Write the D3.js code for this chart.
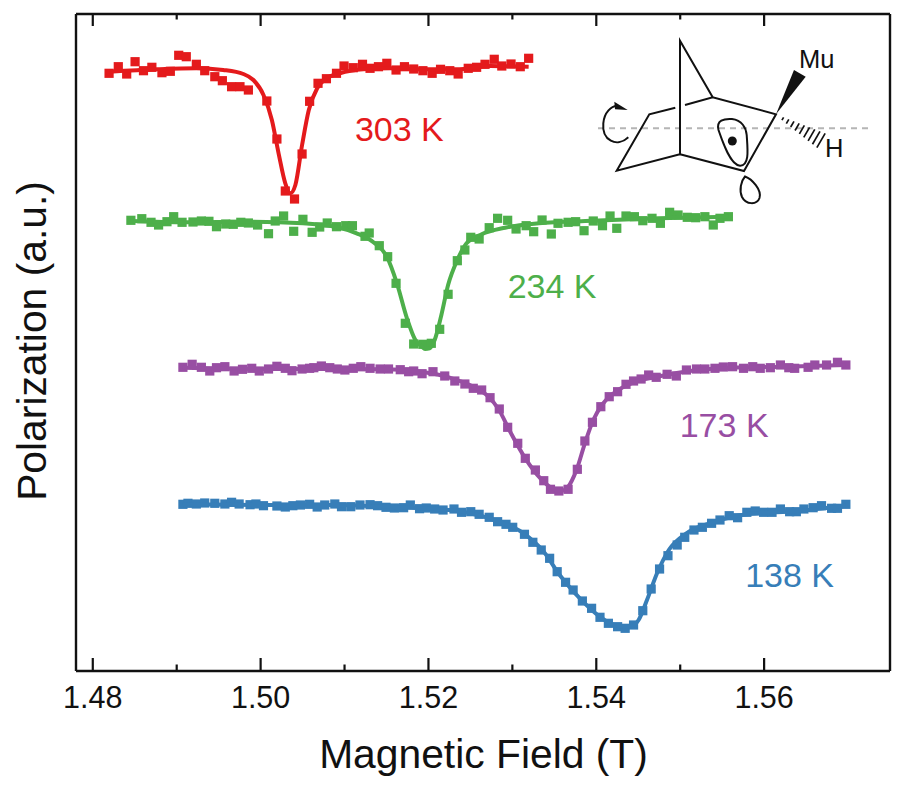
<!DOCTYPE html>
<html><head><meta charset="utf-8">
<script src="https://cdn.jsdelivr.net/npm/d3@7"></script>
<style>html,body{margin:0;padding:0;background:#fff}svg{display:block}text{font-family:"Liberation Sans",Arial,sans-serif}</style>
</head><body><svg id="c" width="900" height="785"></svg>
<script>
// Field in T, polarization in arbitrary units (curves stacked with offsets)
const field303=[1.4820,1.4831,1.4841,1.4851,1.4861,1.4871,1.4883,1.4893,1.4903,1.4912,1.4924,1.4934,1.4946,1.4955,1.4966,1.4976,1.4986,1.5008,1.5020,1.5030,1.5041,1.5050,1.5059,1.5069,1.5079,1.5091,1.5100,1.5111,1.5122,1.5131,1.5141,1.5151,1.5162,1.5172,1.5183,1.5194,1.5205,1.5215,1.5226,1.5236,1.5248,1.5258,1.5268,1.5279,1.5288,1.5299,1.5310,1.5320];
const pol303=[597.2,603.8,596.5,608.8,599.8,603.2,597.8,599.2,615.2,613.8,606.2,599.8,593.8,589.8,583.8,583.8,580.5,569.5,531.5,479.5,471.5,516.5,569.2,587.2,591.8,597.2,604.5,602.8,606.2,602.2,603.8,607.2,600.5,603.8,601.5,599.8,597.2,601.2,599.8,596.5,602.2,603.2,606.2,611.2,604.5,606.5,603.8,612.2];
const fitField303=[1.4820,1.4877,1.4924,1.4956,1.4980,1.4992,1.5004,1.5014,1.5022,1.5030,1.5036,1.5042,1.5050,1.5058,1.5068,1.5079,1.5095,1.5123,1.5155,1.5195,1.5234,1.5274,1.5320];
const fitPol303=[598.8,601.2,602.2,600.5,596.5,590.5,575.5,550.5,517.2,487.2,477.2,485.5,525.5,560.5,582.2,592.2,597.2,601.2,602.2,601.2,601.2,604.5,603.8];

const field234=[1.4846,1.4859,1.4870,1.4879,1.4889,1.4897,1.4907,1.4920,1.4930,1.4939,1.4948,1.4959,1.4968,1.4977,1.4986,1.4997,1.5010,1.5018,1.5028,1.5040,1.5051,1.5062,1.5071,1.5080,1.5091,1.5102,1.5110,1.5125,1.5130,1.5142,1.5152,1.5162,1.5173,1.5183,1.5194,1.5204,1.5214,1.5224,1.5235,1.5244,1.5251,1.5261,1.5273,1.5283,1.5295,1.5305,1.5317,1.5326,1.5336,1.5347,1.5355,1.5367,1.5376,1.5386,1.5397,1.5408,1.5417,1.5425,1.5436,1.5446,1.5456,1.5467,1.5477,1.5488,1.5498,1.5509,1.5519,1.5530,1.5540,1.5548,1.5558];
const pol234=[450.2,451.8,448.2,445.5,448.8,453.8,448.2,448.5,449.5,449.2,443.8,446.5,446.2,448.2,447.5,445.5,436.8,449.5,454.5,439.2,451.2,438.2,443.5,447.5,443.8,444.8,444.8,434.2,437.5,424.8,413.8,387.2,347.2,326.5,326.2,327.2,341.2,376.2,409.8,420.5,433.2,431.5,442.8,452.2,450.2,441.5,444.8,438.8,450.5,436.5,447.2,448.2,448.8,439.8,449.5,444.8,454.5,442.2,454.5,453.8,449.8,452.2,447.2,458.2,455.5,453.2,452.8,453.8,445.5,452.2,453.8];
const fitField234=[1.4846,1.4912,1.4992,1.5051,1.5091,1.5115,1.5135,1.5151,1.5163,1.5175,1.5185,1.5193,1.51965,1.5202,1.5208,1.5216,1.5224,1.5235,1.5246,1.5264,1.5292,1.5332,1.5395,1.5475,1.5558];
const fitPol234=[449.5,448.2,448.8,447.2,443.5,437.2,428.2,413.8,387.2,352.2,330.5,323.8,321.5,322.2,330.5,355.5,385.5,410.5,427.2,436.2,442.8,447.2,449.8,452.2,453.8];

const field173=[1.4908,1.4919,1.4930,1.4940,1.4948,1.4958,1.4969,1.4979,1.4990,1.4999,1.5010,1.5020,1.5030,1.5038,1.5050,1.5059,1.5064,1.5073,1.5083,1.5092,1.5101,1.5111,1.5120,1.5131,1.5143,1.5153,1.5167,1.5177,1.5183,1.5193,1.5206,1.5220,1.5232,1.5244,1.5254,1.5264,1.5274,1.5285,1.5295,1.5307,1.5316,1.5328,1.5338,1.5346,1.5356,1.5367,1.5378,1.5387,1.5396,1.5406,1.5416,1.5426,1.5436,1.5445,1.5454,1.5463,1.5472,1.5485,1.5496,1.5508,1.5520,1.5530,1.5542,1.5552,1.5563,1.5576,1.5587,1.5596,1.5608,1.5620,1.5630,1.5637,1.5653,1.5661,1.5675,1.5688,1.5698];
const pol173=[303.2,306.2,303.2,299.5,302.8,303.8,299.5,301.2,302.2,299.5,301.5,304.2,302.2,299.8,301.5,302.2,302.8,304.5,302.8,301.5,300.5,302.2,303.8,302.2,301.5,301.5,300.8,298.8,299.5,296.8,298.8,294.5,289.5,286.5,282.2,280.5,272.8,261.5,243.2,227.2,212.2,200.5,189.8,181.2,179.5,181.2,201.2,229.5,248.2,263.8,273.8,278.8,286.2,289.5,291.5,295.5,293.2,296.2,294.5,300.5,301.5,301.5,302.2,303.5,303.8,302.2,303.8,302.2,302.8,305.5,302.8,302.2,303.2,305.5,305.5,308.2,305.5];
const fitField173=[1.4908,1.5012,1.5091,1.5151,1.5210,1.5226,1.5254,1.5272,1.5284,1.5298,1.5316,1.5334,1.5348,1.5358,1.5367,1.5377,1.5387,1.5397,1.5409,1.5425,1.5445,1.5473,1.5512,1.5560,1.5624,1.5698];
const fitPol173=[302.8,301.5,301.5,301.2,296.2,292.8,283.8,273.8,261.5,238.8,212.2,192.2,182.2,179.5,183.8,200.5,227.2,250.5,267.2,279.5,288.2,293.8,299.5,302.8,303.8,305.5];

const field138=[1.4908,1.4914,1.4924,1.4934,1.4946,1.4958,1.4966,1.4975,1.4988,1.4995,1.5004,1.5020,1.5030,1.5039,1.5048,1.5059,1.5068,1.5077,1.5089,1.5097,1.5108,1.5119,1.5131,1.5140,1.5150,1.5160,1.5171,1.5179,1.5190,1.5198,1.5208,1.5218,1.5231,1.5240,1.5251,1.5261,1.5273,1.5283,1.5293,1.5301,1.5315,1.5325,1.5335,1.5345,1.5354,1.5364,1.5373,1.5384,1.5395,1.5405,1.5415,1.5426,1.5435,1.5445,1.5456,1.5466,1.5476,1.5486,1.5497,1.5506,1.5517,1.5527,1.5538,1.5548,1.5559,1.5569,1.5580,1.5590,1.5600,1.5610,1.5620,1.5631,1.5639,1.5648,1.5659,1.5669,1.5681,1.5688,1.5698];
const pol138=[166.2,167.2,166.5,167.5,167.2,166.5,168.2,166.5,165.8,166.5,164.8,164.5,163.5,164.8,165.5,166.2,163.5,165.5,166.5,163.8,163.8,165.5,165.8,164.8,163.2,162.5,162.8,165.5,161.8,162.5,161.5,160.5,161.5,158.2,158.8,156.2,153.2,148.8,146.2,143.2,136.2,128.2,120.5,112.2,98.8,88.2,80.5,69.5,62.2,53.2,47.2,43.8,42.2,45.5,59.8,81.5,101.5,114.8,125.5,133.2,140.5,143.2,147.2,150.5,154.8,152.8,158.2,159.5,158.2,158.2,161.5,158.8,158.8,161.5,162.8,164.8,162.2,162.2,166.2];
const fitField138=[1.4908,1.5012,1.5091,1.5151,1.5210,1.5242,1.5282,1.5314,1.5338,1.5357,1.5381,1.5405,1.5425,1.5441,1.5451,1.5461,1.5473,1.5487,1.5508,1.5540,1.5580,1.5640,1.5698];
const fitPol138=[166.2,165.5,165.5,163.8,161.5,158.8,149.5,137.2,118.8,95.5,72.2,53.8,44.8,43.8,50.5,70.5,97.2,120.5,137.2,148.2,156.2,159.5,164.8];

const tempLabels=["303 K","234 K","173 K","138 K"];
const colors=["#e41a1c","#4daf4a","#984ea3","#377eb8"];
const labelField=[1.5113,1.5295,1.5500,1.5578];
const labelPol=[529.5,372.5,233.5,83.5];
const majorTicks=[1.48,1.50,1.52,1.54,1.56];
const minorTicks=[1.49,1.51,1.53,1.55];

const svg=d3.select("#c");
const x=d3.scaleLinear().domain([1.478,1.575]).range([75.5,889.5]);
const y=d3.scaleLinear().domain([0,657]).range([670.5,13.5]);
const series=[[field303,pol303,fitField303,fitPol303],[field234,pol234,fitField234,fitPol234],[field173,pol173,fitField173,fitPol173],[field138,pol138,fitField138,fitPol138]];
const line=d3.line().x(d=>x(d[0])).y(d=>y(d[1])).curve(d3.curveMonotoneX);
const ms=9.2;
series.forEach((s,i)=>{
  const g=svg.append("g");
  g.selectAll("rect").data(d3.zip(s[0],s[1])).join("rect")
    .attr("x",d=>x(d[0])-ms/2).attr("y",d=>y(d[1])-ms/2).attr("width",ms).attr("height",ms).attr("fill",colors[i]);
  g.append("path").attr("d",line(d3.zip(s[2],s[3]))).attr("fill","none").attr("stroke",colors[i]).attr("stroke-width",4);
  g.append("text").attr("x",x(labelField[i])).attr("y",y(labelPol[i])).attr("font-size",34).attr("fill",colors[i]).text(tempLabels[i]);
});

function styleAxis(g){g.selectAll("path,line").attr("stroke","#111").attr("stroke-width",2.2);g.select(".domain").attr("stroke-width",2.4)}
const fmt=d3.format(".2f");
[[d3.axisBottom,670.5,-12.5,-6,true],[d3.axisTop,13.5,-12.5,-6,false]].forEach(([ax,yy,maj,min,lab])=>{
  const g=svg.append("g").attr("transform",`translate(0,${yy})`).call(ax(x).tickValues(majorTicks).tickSize(maj).tickSizeOuter(0).tickFormat(lab?fmt:""));
  g.append("g").call(ax(x).tickValues(minorTicks).tickSize(min).tickSizeOuter(0).tickFormat("")).select(".domain").remove();
  styleAxis(g);
  g.selectAll("text").attr("font-size",30.5).attr("fill","#111").attr("font-family","Liberation Sans").attr("y",lab?16:0).attr("dy","0.72em");
});
[[d3.axisLeft,75.5],[d3.axisRight,889.5]].forEach(([ax,xx])=>{
  const g=svg.append("g").attr("transform",`translate(${xx},0)`).call(ax(y).tickValues([]).tickSizeOuter(0));
  styleAxis(g);
});
svg.append("text").attr("x",483.5).attr("y",768).attr("text-anchor","middle").attr("font-size",40.8).attr("fill","#111").text("Magnetic Field (T)");
svg.append("text").attr("transform","translate(46,341) rotate(-90)").attr("text-anchor","middle").attr("font-size",40.8).attr("fill","#111").text("Polarization (a.u.)");

// Molecule inset (schematic, not data)
const mol=svg.append("g").attr("fill","none").attr("stroke","#111").attr("stroke-width",2);
mol.append("line").attr("x1",598).attr("x2",870).attr("y1",128.3).attr("y2",128.3).attr("stroke","#b5b5b5").attr("stroke-width",2).attr("stroke-dasharray","6 5");
mol.append("path").attr("stroke-linejoin","miter").attr("d","M712.7,97.3L680,40.7L680,154.3L616.7,170.7L649.3,114.3L675.3,107.7M685,105L712.7,97.3L776,114.3L744,171L680,154.3");
mol.append("path").attr("d","M740,165.7C730,165 722,140 718.5,130C716,120 724,118.5 732,119C742,120 746,128 746.7,135C747.5,148 750,166 740,165.7Z");
mol.append("path").attr("d","M745,176.5C752,179 762,190 759.5,198C757,205 746,205 742,197C739,190 741,181 745,176.5Z");
mol.append("path").attr("d","M628.3,137.3C616.7,148.3 601.7,140 603.3,123.3C604.3,112 611.7,106 616.7,106");
mol.append("path").attr("stroke","none").attr("fill","#111").attr("d","M614.3,101.7L627.7,110L615,109.3Z");
mol.append("circle").attr("cx",732.3).attr("cy",141).attr("r",4.5).attr("fill","#111").attr("stroke","none");
mol.append("path").attr("stroke","none").attr("fill","#111").attr("d","M776,114.3L794,70L805.7,76.7Z");
d3.range(1,10).forEach(k=>{const t=k/9,cx=778+43*t,cy=116+24.5*t,h=0.8+7.5*t;
  mol.append("line").attr("x1",cx+0.5*h).attr("y1",cy-0.866*h).attr("x2",cx-0.5*h).attr("y2",cy+0.866*h).attr("stroke-width",1.7);});
svg.append("text").attr("x",799).attr("y",67.7).attr("font-size",25.5).attr("fill","#111").text("Mu");
svg.append("text").attr("x",825).attr("y",156.7).attr("font-size",25.5).attr("fill","#111").text("H");
</script></body></html>
